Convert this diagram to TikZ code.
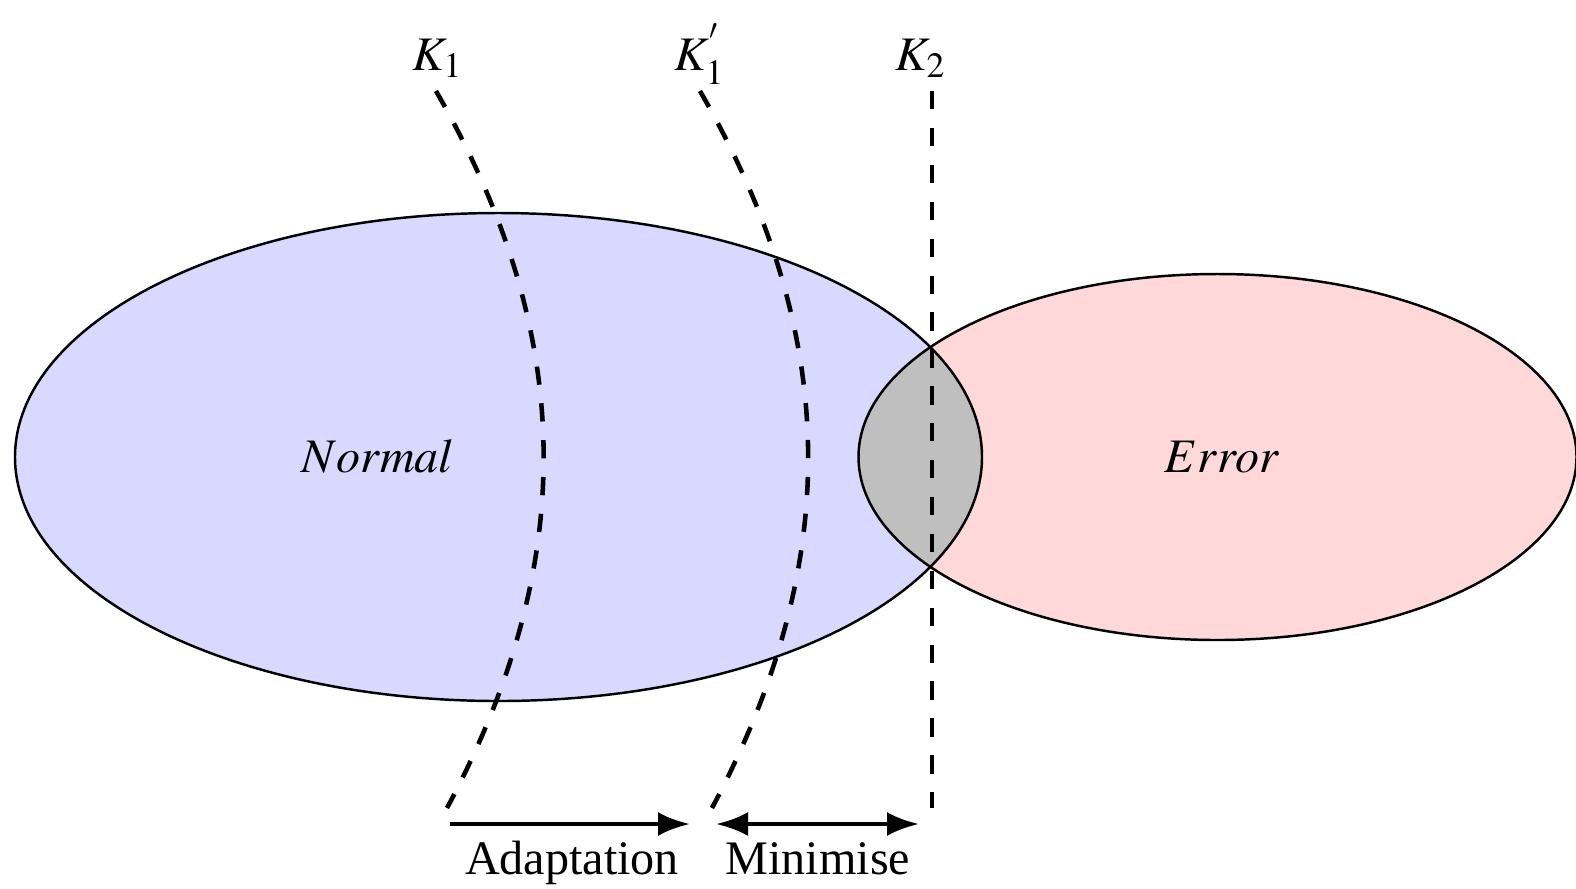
\documentclass[tikz,border=0pt]{standalone}
\usepackage{mathptmx}
\usepackage{fontspec}
\setmainfont{Liberation Serif}
\usetikzlibrary{arrows.meta}
\tikzset{
  kset/.style={draw,line width=0.7pt},
  kcut/.style={line width=1.3pt,dash pattern=on 5.2pt off 5.3pt},
  karrow/.style={line width=1.3pt},
  ktip/.style={-{Latex[length=3.2mm,width=2.4mm]}},
  ktips/.style={{Latex[length=3.2mm,width=2.4mm]}-{Latex[length=3.2mm,width=2.4mm]}},
  klab/.style={font=\fontsize{13.7}{16}\selectfont,inner sep=0pt},
}
\colorlet{knorm}{blue!15}
\colorlet{kerr}{red!15}
\colorlet{kboth}{gray!50}
\begin{document}
\begin{tikzpicture}
\useasboundingbox (0,0) rectangle (15.76,-8.88);
% ---- the two sets, and what they share
\fill[knorm] (4.985,-4.57) ellipse (4.835 and 2.44);
\fill[kerr] (12.175,-4.57) ellipse (3.59 and 1.83);
\begin{scope}
  \clip (4.985,-4.57) ellipse (4.835 and 2.44);
  \fill[kboth] (12.175,-4.57) ellipse (3.59 and 1.83);
\end{scope}
\draw[kset] (4.985,-4.57) ellipse (4.835 and 2.44);
\draw[kset] (12.175,-4.57) ellipse (3.59 and 1.83);
\node[klab,anchor=base] (normal) at (3.78,-4.72) {$Normal$};
\node[klab,anchor=base] (error) at (12.22,-4.72) {$Error$};
% ---- the three cuts
\coordinate (k1t) at (4.36,-0.91);
\coordinate (k1b) at (4.47,-8.08);
\coordinate (k1pt) at (7.00,-0.91);
\coordinate (k1pb) at (7.12,-8.08);
\coordinate (k2t) at (9.32,-0.91);
\coordinate (k2b) at (9.32,-8.08);
\draw[kcut] (k1t) to[bend left=29] (k1b);
\draw[kcut] (k1pt) to[bend left=29] (k1pb);
\draw[kcut] (k2t) -- (k2b);
\node[klab,anchor=base] (k1) at (4.38,-0.70) {$K_1$};
\node[klab,anchor=base] (k1p) at (7.00,-0.70) {$K_1^{'}$};
\node[klab,anchor=base] (k2) at (9.21,-0.70) {$K_2$};
% ---- moves at the bottom
\coordinate (a1) at (4.50,-8.24);
\coordinate (a2) at (6.90,-8.24);
\coordinate (m1) at (7.16,-8.24);
\coordinate (m2) at (9.19,-8.24);
\draw[karrow,ktip] (a1) -- (a2);
\draw[karrow,ktips] (m1) -- (m2);
\node[klab,anchor=base] (adapt) at (5.72,-8.74) {Adaptation};
\node[klab,anchor=base] (minim) at (8.18,-8.74) {Minimise};
\end{tikzpicture}
\end{document}
